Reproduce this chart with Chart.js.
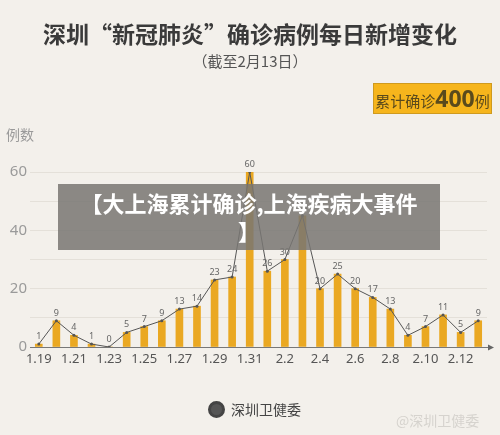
<!DOCTYPE html>
<html>
<head>
<meta charset="utf-8">
<script src="https://cdn.jsdelivr.net/npm/chart.js@4/dist/chart.umd.min.js"></script>
<style>
  body { margin: 0; background: #f3f0eb; font-family: "Noto Sans CJK SC", "Noto Sans", sans-serif; }
  #wrap { position: relative; width: 500px; height: 435px; overflow: hidden; background: #f3f0eb; }
  #chart { position: absolute; left: 0; top: 0; }
  .title { position: absolute; left: 0; width: 500px; top: 16px; text-align: center; font-size: 23px; font-weight: bold; color: #3a3a3a; }
  .sub { position: absolute; left: 0; width: 500px; top: 50px; text-align: center; font-size: 15px; color: #555; }
  .badge { position: absolute; left: 373px; top: 83px; width: 117px; height: 29px; background: #f6b51c; border: 1px solid #cf9a1e; color: #5a4a1c; font-size: 15px; line-height: 29px; text-align: center; white-space: nowrap; }
  .badge b { font-size: 23px; font-family: "Noto Sans", sans-serif; }
  .yname { position: absolute; left: 6px; top: 124px; font-size: 14px; color: #9a9a9a; }
  .overlay { position: absolute; left: 58px; top: 184px; width: 382px; height: 66px; background: rgba(120,117,114,0.85); color: #fff; font-weight: bold; font-size: 22px; text-align: center; line-height: 28px; padding-top: 4px; box-sizing: border-box; white-space: nowrap; }
  .foot { position: absolute; left: 208px; top: 399px; font-size: 14px; color: #444; }
  .logo { display: inline-block; width: 17px; height: 17px; border-radius: 50%; background: #555; border: 3px solid #444; box-sizing: border-box; vertical-align: -3px; margin-right: 6px; }
  .wm { position: absolute; left: 396px; top: 410px; font-size: 14px; color: #d6d3ce; }
</style>
</head>
<body>
<div id="wrap">
  <canvas id="chart" width="500" height="435"></canvas>
  <div class="title">深圳“新冠肺炎”确诊病例每日新增变化</div>
  <div class="sub">（截至2月13日）</div>
  <div class="badge">累计确诊<b>400</b>例</div>
  <div class="yname">例数</div>
  <div class="overlay">【大上海累计确诊,上海疾病大事件<br>】</div>
  <div class="foot"><span class="logo"></span>深圳卫健委</div>
  <div class="wm">@深圳卫健委</div>
</div>
<script>
// 日期 1.19 ~ 2.13
const dates = ['1.19','1.20','1.21','1.22','1.23','1.24','1.25','1.26','1.27','1.28','1.29','1.30','1.31',
               '2.1','2.2','2.3','2.4','2.5','2.6','2.7','2.8','2.9','2.10','2.11','2.12','2.13'];
// 每日新增
const newCases = [1, 9, 4, 1, 0, 5, 7, 9, 13, 14, 23, 24, 60,
                  26, 30, 45, 20, 25, 20, 17, 13, 4, 7, 11, 5, 9];
const yTicks = [0, 20, 40, 60];

// 数值标签 + 坐标轴箭头
const extras = {
  id: 'extras',
  afterDatasetsDraw(chart) {
    const ctx = chart.ctx;
    const meta = chart.getDatasetMeta(1);
    ctx.save();
    ctx.font = '9px "Noto Sans", sans-serif';
    ctx.fillStyle = '#666';
    ctx.textAlign = 'center';
    ctx.textBaseline = 'bottom';
    meta.data.forEach((pt, i) => {
      ctx.fillText(newCases[i], pt.x, pt.y - 3);
    });
    const y0 = chart.scales.y.getPixelForValue(0);
    const a = chart.chartArea;
    ctx.strokeStyle = '#777';
    ctx.lineWidth = 1;
    ctx.beginPath();
    ctx.moveTo(a.left, y0 + 0.5);
    ctx.lineTo(a.right + 2, y0 + 0.5);
    ctx.stroke();
    ctx.fillStyle = '#666';
    ctx.beginPath();
    ctx.moveTo(a.right + 7, y0 + 0.5);
    ctx.lineTo(a.right + 1, y0 - 2.5);
    ctx.lineTo(a.right + 1, y0 + 3.5);
    ctx.closePath();
    ctx.fill();
    ctx.restore();
  }
};

var ctx = document.getElementById('chart').getContext('2d');
var myChart = new Chart(ctx, {
  data: {
    labels: dates,
    datasets: [{
        type: 'bar',
        data: newCases,
        backgroundColor: '#eaa822',
        barThickness: 7,
        order: 2
      }, {
        type: 'line',
        data: newCases,
        borderColor: '#555',
        borderWidth: 1,
        pointRadius: 1.5,
        pointBackgroundColor: '#555',
        pointBorderWidth: 0,
        tension: 0,
        order: 1
      }
    ]
  },
  options: {
    responsive: false,
    animation: false,
    layout: { padding: { left: 0, right: 13, top: 172, bottom: 63 } },
    plugins: { legend: { display: false }, tooltip: { enabled: false } },
    scales: {
      x: {
        offset: true,
        grid: { display: false, drawTicks: false },
        border: { display: false },
        afterFit(s) { s.height = 25; },
        ticks: {
          autoSkip: false,
          maxRotation: 0,
          padding: 4,
          color: '#555',
          font: { size: 13, family: '"Noto Sans", sans-serif' },
          callback: (v, i) => (i % 2 === 0 ? dates[i] : '')
        }
      },
      y: {
        min: 0,
        max: 60,
        afterFit(s) { s.width = 30; },
        border: { display: false },
        grid: { color: '#e4e0d9', drawTicks: false },
        ticks: {
          stepSize: 10,
          padding: 3,
          color: '#9a9a9a',
          font: { size: 15, family: '"Noto Sans", sans-serif' },
          callback: v => (yTicks.includes(v) ? v : '')
        }
      }
    }
  },
  plugins: [extras]
});
</script>
</body>
</html>
